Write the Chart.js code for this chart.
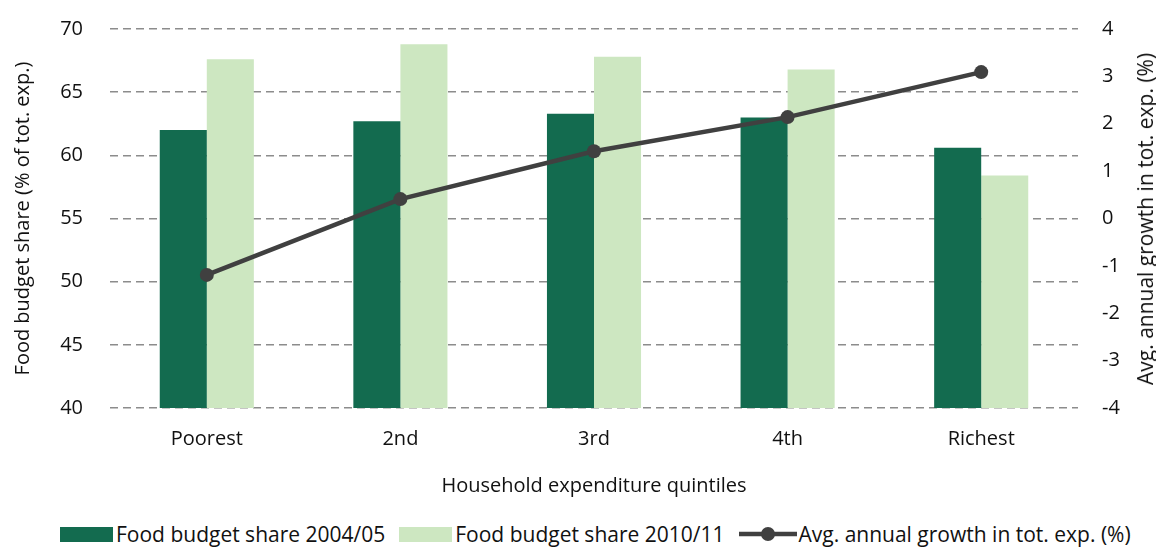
<!DOCTYPE html>
<html>
<head>
<meta charset="utf-8">
<script src="https://cdn.jsdelivr.net/npm/chart.js"></script>
<style>
  body { margin: 0; background: #fff; }
  #wrap { position: relative; width: 1156px; height: 547px; overflow: hidden; }
  #chart { position: absolute; left: 0; top: 0; }
  #legend {
    position: absolute; left: 53px; top: 521px; height: 26px;
    display: flex; justify-content: flex-start; align-items: center;
    font-family: "Open Sans", sans-serif; font-size: 21px; color: #111;
  }
  .item { display: flex; align-items: center; margin: 0 7px; white-space: nowrap; }
  .box { width: 53px; height: 15px; margin-right: 3px; }
  #rtitle {
    position: absolute; left: 1145px; top: 219px; white-space: nowrap;
    transform: translate(-50%, -50%) rotate(-90deg);
    font-family: "Open Sans", sans-serif; font-size: 21px; color: #111; line-height: 24px;
  }
</style>
</head>
<body>
<div id="wrap">
  <canvas id="chart" width="1156" height="510"></canvas>
  <div id="rtitle">Avg. annual growth in tot. exp. (%)</div>
  <div id="legend"></div>
</div>
<script>
var quintiles = ['Poorest', '2nd', '3rd', '4th', 'Richest'];
var share2004 = [62.0, 62.7, 63.3, 63.0, 60.6];
var share2010 = [67.6, 68.8, 67.8, 66.8, 58.4];
var growth = [-1.19, 0.41, 1.42, 2.14, 3.09];

var darkGreen = '#136b4f';
var lightGreen = '#cde7c1';
var lineGrey = '#404040';
var txt = '#111';
var fnt = { family: '"Open Sans", sans-serif', size: 20 };

var data = {
    labels: quintiles,
    datasets: [
        {
            type: 'line',
            label: 'Avg. annual growth in tot. exp. (%)',
            data: growth,
            yAxisID: 'y1',
            borderColor: lineGrey,
            backgroundColor: lineGrey,
            borderWidth: 4.5,
            pointRadius: 7,
            pointBackgroundColor: lineGrey,
            pointBorderWidth: 0,
            tension: 0,
            order: 0
        },
        {
            type: 'bar',
            label: 'Food budget share 2004/05',
            data: share2004,
            yAxisID: 'y',
            backgroundColor: darkGreen,
            barPercentage: 1,
            categoryPercentage: 0.486,
            order: 1
        },
        {
            type: 'bar',
            label: 'Food budget share 2010/11',
            data: share2010,
            yAxisID: 'y',
            backgroundColor: lightGreen,
            barPercentage: 1,
            categoryPercentage: 0.486,
            order: 1
        }
    ]
};

// fixed axis sizes so the plot area sits where the original one does
function fixVertical(w) {
    return function (s) {
        s.width = w;
        s.paddingTop = 0;
        s.paddingBottom = 0;
    };
}

var myChart = new Chart(document.getElementById('chart').getContext('2d'), {
    type: 'bar',
    data: data,
    options: {
        responsive: false,
        animation: false,
        devicePixelRatio: 1,
        layout: { padding: { top: 29, bottom: 0, left: 0, right: 0 } },
        plugins: { legend: { display: false }, tooltip: { enabled: false } },
        scales: {
            x: {
                grid: { display: false },
                border: { display: false },
                ticks: { font: fnt, color: txt, padding: 11 },
                title: {
                    display: true, text: 'Household expenditure quintiles',
                    font: fnt, color: txt, padding: { top: 0, bottom: 12 }
                },
                afterFit: function (s) { s.height = 510 - 408; }
            },
            y: {
                position: 'left',
                min: 40, max: 70,
                ticks: { stepSize: 5, font: fnt, color: txt, padding: 27 },
                grid: { color: '#8c8c8c', lineWidth: 1.5, drawTicks: false },
                border: { display: false, dash: [8, 5] },
                title: {
                    display: true, text: 'Food budget share (% of tot. exp.)',
                    font: fnt, color: txt, padding: { top: 11, bottom: 0 }
                },
                afterFit: fixVertical(110)
            },
            y1: {
                position: 'right',
                min: -4, max: 4,
                ticks: { stepSize: 1, font: fnt, color: txt, padding: 24 },
                grid: { display: false, drawTicks: false },
                border: { display: false },
                afterFit: fixVertical(1156 - 1078)
            }
        }
    }
});

// legend in the order of the original
var legend = document.getElementById('legend');
var items = [
    { kind: 'box', color: darkGreen, text: data.datasets[1].label },
    { kind: 'box', color: lightGreen, text: data.datasets[2].label },
    { kind: 'line', color: lineGrey, text: data.datasets[0].label }
];
items.forEach(function (it) {
    var el = document.createElement('div');
    el.className = 'item';
    if (it.kind === 'box') {
        el.innerHTML = '<div class="box" style="background:' + it.color + '"></div>';
    } else {
        el.innerHTML = '<svg width="58" height="16" style="margin-right:2px">' +
            '<line x1="0" y1="8" x2="58" y2="8" stroke="' + it.color + '" stroke-width="4.5"/>' +
            '<circle cx="29" cy="8" r="7" fill="' + it.color + '"/></svg>';
    }
    var sp = document.createElement('span');
    sp.textContent = it.text;
    el.appendChild(sp);
    legend.appendChild(el);
});
</script>
</body>
</html>
